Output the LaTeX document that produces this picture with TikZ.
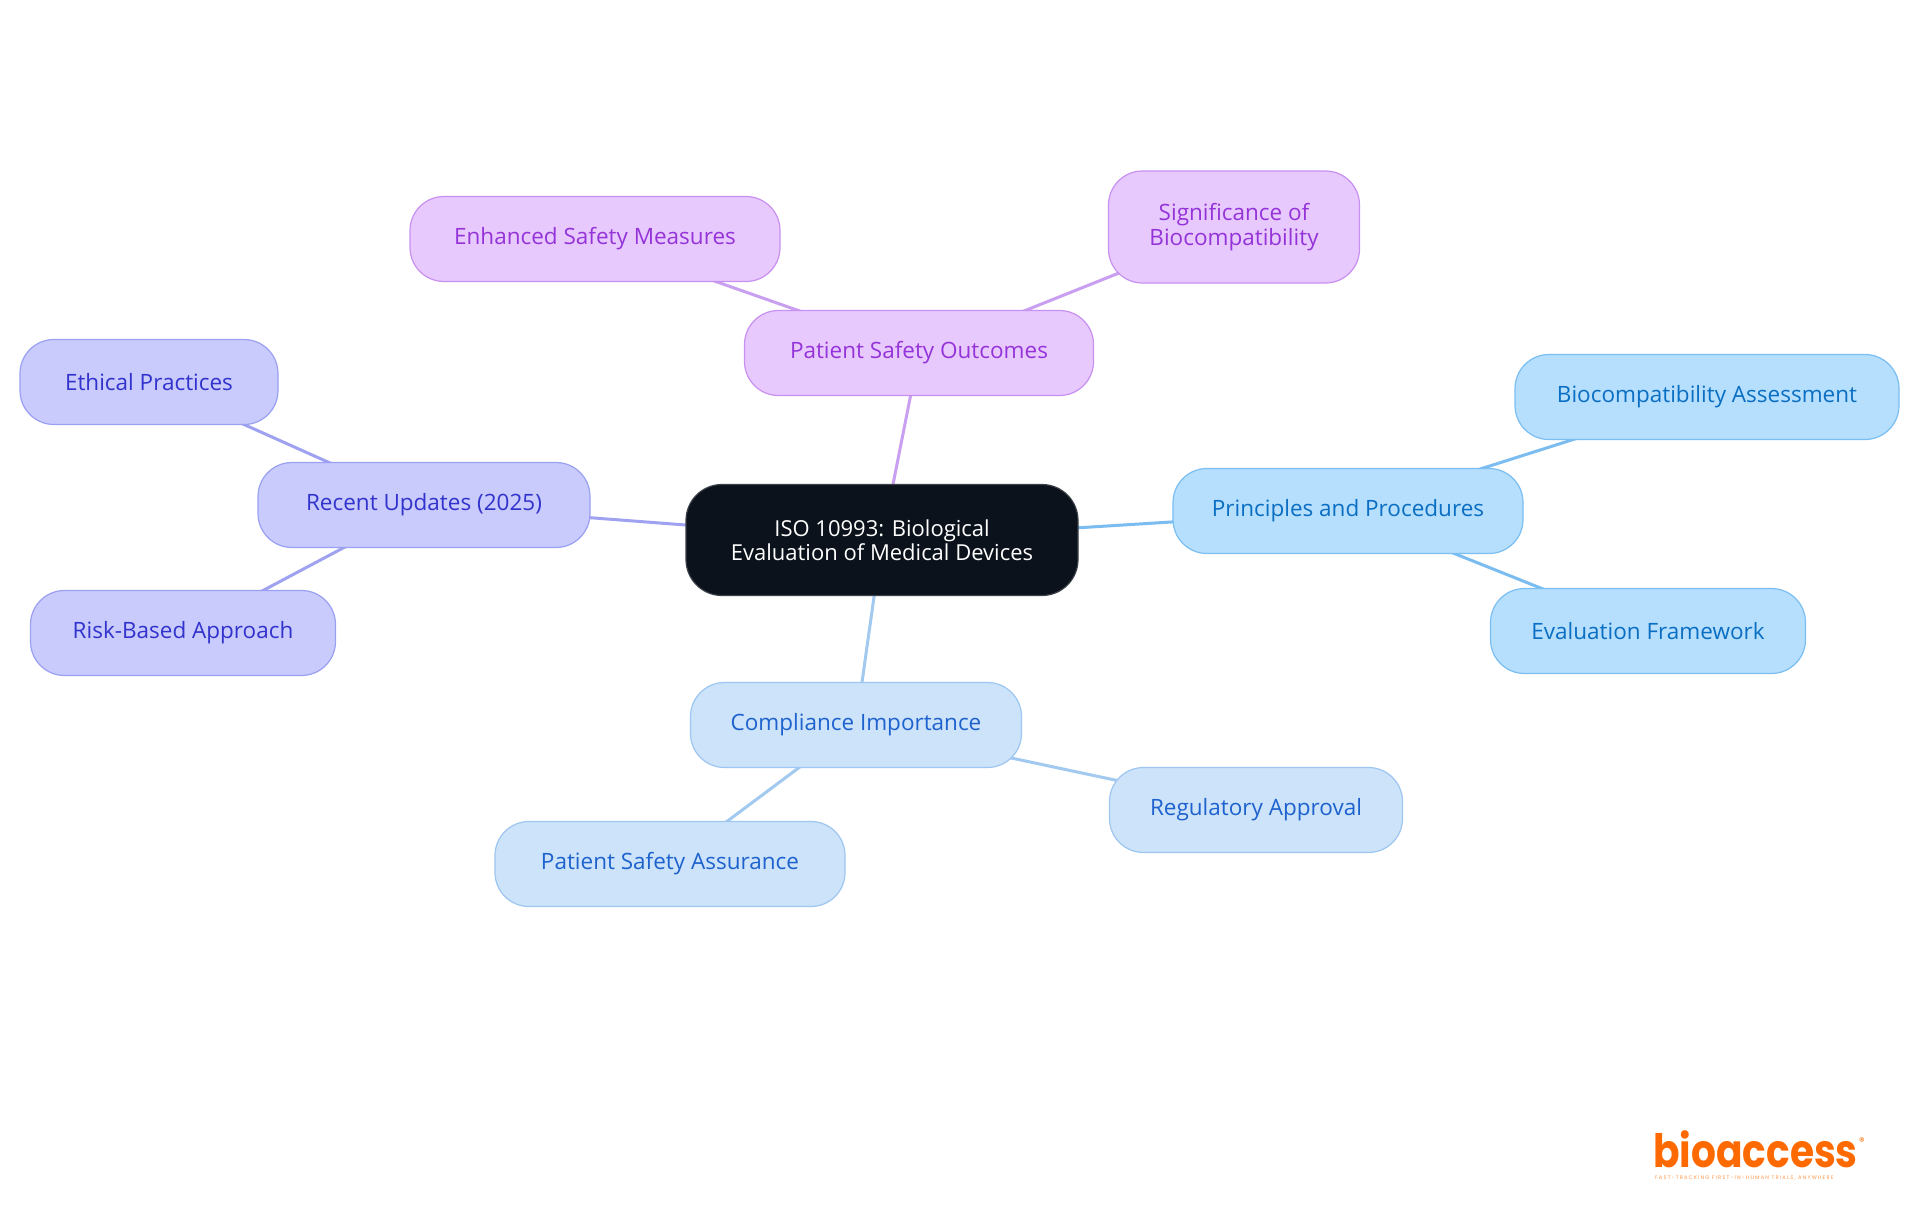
\documentclass[tikz,border=0pt]{standalone}
\usepackage{fontspec}
\setmainfont{Open Sans}
\newfontfamily\logofont{Poppins}
\usetikzlibrary{backgrounds}
\definecolor{cfill}{HTML}{0B121B}
\definecolor{cdraw}{HTML}{3B4048}
\definecolor{purfill}{HTML}{E8C9FE}
\definecolor{purdraw}{HTML}{C890F0}
\definecolor{purtext}{HTML}{9434D8}
\definecolor{purline}{HTML}{C99FF2}
\definecolor{indfill}{HTML}{C8CBFC}
\definecolor{inddraw}{HTML}{9AA0F2}
\definecolor{indtext}{HTML}{3232CC}
\definecolor{indline}{HTML}{9EA2F0}
\definecolor{skyfill}{HTML}{B5DFFD}
\definecolor{skydraw}{HTML}{7ABEF2}
\definecolor{skytext}{HTML}{0A6EC2}
\definecolor{skyline}{HTML}{7BBDF0}
\definecolor{palefill}{HTML}{CCE3FA}
\definecolor{paledraw}{HTML}{9EC6F0}
\definecolor{paletext}{HTML}{1E62CE}
\definecolor{paleline}{HTML}{A2C9F0}
\definecolor{logoorange}{HTML}{FF6A00}
\begin{document}
\begin{tikzpicture}[x=1pt,y=-1pt,
  box/.style={rounded corners=34pt, line width=1.2pt, align=center,
    font=\fontsize{22.5}{25}\selectfont, inner sep=0pt, minimum height=85pt},
  purbox/.style={box, fill=purfill, draw=purdraw, text=purtext},
  indbox/.style={box, fill=indfill, draw=inddraw, text=indtext},
  skybox/.style={box, fill=skyfill, draw=skydraw, text=skytext},
  palebox/.style={box, fill=palefill, draw=paledraw, text=paletext},
  centerbox/.style={box, rounded corners=36pt, fill=cfill, draw=cdraw, text=white,
    minimum height=111pt, font=\fontsize{22}{24.5}\selectfont},
  link/.style={line width=3pt}
]
\useasboundingbox (0,0) rectangle (1920,1215);

\node[centerbox, minimum width=392pt] (c) at (882,540) {ISO 10993: Biological\\Evaluation of Medical Devices};

\node[purbox, minimum width=349pt] (pso) at (919,353) {Patient Safety Outcomes};
\node[purbox, minimum width=370pt] (esm) at (595,239) {Enhanced Safety Measures};
\node[purbox, minimum width=251pt, minimum height=112pt] (sob) at (1234,227) {Significance of\\Biocompatibility};

\node[indbox, minimum width=332pt] (ru) at (424,505) {Recent Updates (2025)};
\node[indbox, minimum width=258pt] (ep) at (149,382) {Ethical Practices};
\node[indbox, minimum width=305pt] (rba) at (183,633) {Risk-Based Approach};

\node[skybox, minimum width=350pt] (pp) at (1348,511) {Principles and Procedures};
\node[skybox, minimum width=384pt] (ba) at (1707,397) {Biocompatibility Assessment};
\node[skybox, minimum width=315pt] (ef) at (1648,631) {Evaluation Framework};

\node[palebox, minimum width=331pt] (ci) at (856,725) {Compliance Importance};
\node[palebox, minimum width=293pt] (ra) at (1256,810) {Regulatory Approval};
\node[palebox, minimum width=350pt] (psa) at (670,864) {Patient Safety Assurance};

\begin{scope}[on background layer]
\fill[white] (0,0) rectangle (1920,1215);
\draw[link, purline] (c.center) -- (pso.center);
\draw[link, purline] (pso.center) -- (esm.center);
\draw[link, purline] (pso.center) -- (sob.center);
\draw[link, indline] (c.center) -- (ru.center);
\draw[link, indline] (ru.center) -- (ep.center);
\draw[link, indline] (ru.center) -- (rba.center);
\draw[link, skyline] (c.center) -- (pp.center);
\draw[link, skyline] (pp.center) -- (ba.center);
\draw[link, skyline] (pp.center) -- (ef.center);
\draw[link, paleline] (c.center) -- (ci.center);
\draw[link, paleline] (ci.center) -- (ra.center);
\draw[link, paleline] (ci.center) -- (psa.center);
\end{scope}

\node[anchor=base west, inner sep=0pt, text depth=0pt, text=logoorange, font=\logofont\bfseries\fontsize{46}{46}\selectfont] (logo) at (1653,1167) {\scalebox{0.85}[1]{bioaccess}};
\node[inner sep=0pt, text=logoorange, font=\logofont\fontsize{11}{11}\selectfont] (reg) at (1862,1142) {®};
\node[anchor=north west, inner sep=0pt, text=logoorange!70, font=\logofont\fontsize{5.2}{6}\selectfont\addfontfeature{LetterSpace=22}] (tag) at (1655,1176) {FAST-TRACKING FIRST-IN-HUMAN TRIALS, ANYWHERE};
\end{tikzpicture}
\end{document}
